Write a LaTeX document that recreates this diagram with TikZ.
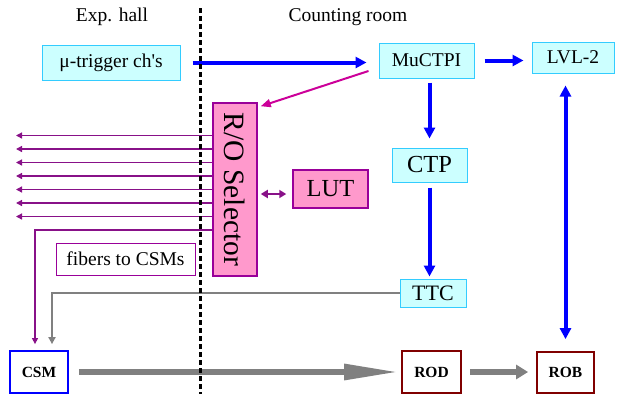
\documentclass[tikz,border=0pt]{standalone}
\usepackage{fontspec}
\setmainfont{Liberation Serif}
\usetikzlibrary{arrows.meta}
\definecolor{trigfill}{RGB}{204,255,255}
\definecolor{trigline}{RGB}{51,204,255}
\definecolor{selfill}{RGB}{255,153,204}
\definecolor{selline}{RGB}{153,0,153}
\definecolor{fibcol}{RGB}{136,17,136}
\definecolor{magline}{RGB}{204,0,153}
\definecolor{rodline}{RGB}{128,0,0}
\begin{document}
\begin{tikzpicture}[x=1pt, y=-1pt, font=\fontsize{19.5}{22}\selectfont,
    trig/.style={draw=trigline, fill=trigfill, line width=1pt, inner sep=0pt},
    sel/.style={draw=selline, fill=selfill, line width=1.5pt, inner sep=0pt},
    rbox/.style={draw=rodline, line width=1.8pt, inner sep=0pt, font=\fontsize{15.5}{17}\selectfont\bfseries},
    trigarr/.style={blue, line width=4pt, >={Triangle[length=11pt,width=11pt]}, ->},
    fiber/.style={fibcol, line width=1.3pt, -{Triangle[length=6pt,width=6pt]}},
    grayarr/.style={gray, line width=6pt, -{Triangle[length=12pt,width=14pt]}}]
    \useasboundingbox (0,0) rectangle (619,394);
    % the two halves
    \node (exphall) at (112,17) {Exp. hall};
    \node (countroom) at (348,17) {Counting room};
    % trigger chain
    \node[trig, minimum width=138pt, minimum height=35pt] (mutrig) at (111,62.5) {μ-trigger ch\textquotesingle s};
    \node[trig, minimum width=95pt, minimum height=35pt] (muctpi) at (426.5,60.5) {MuCTPI};
    \node[trig, minimum width=82pt, minimum height=31pt] (lvl2) at (573,57.5) {LVL-2};
    \node[trig, minimum width=75pt, minimum height=34pt, font=\fontsize{24.5}{26}\selectfont] (ctp) at (429.5,165) {CTP};
    \node[trig, minimum width=66pt, minimum height=28pt, font=\fontsize{22}{24}\selectfont] (ttc) at (433,293) {TTC};
    % read-out selector
    \node[sel, minimum width=44pt, minimum height=173pt, font=\fontsize{29.5}{30}\selectfont] (rosel) at (235,189.5) {\rotatebox{-90}{R/O Selector}};
    \node[sel, minimum width=75pt, minimum height=38pt, font=\fontsize{24.5}{26}\selectfont] (lut) at (330.5,189) {LUT};
    \node[draw=selline, line width=0.8pt, fill=white, minimum width=139pt, minimum height=32pt, inner sep=0pt] (fibnote) at (125.5,259) {fibers to CSMs};
    % read-out boxes
    \node[rbox, draw=blue, minimum width=58pt, minimum height=42pt] (csm) at (39,372) {CSM};
    \node[rbox, minimum width=59pt, minimum height=42pt] (rod) at (431.5,372) {ROD};
    \node[rbox, minimum width=57pt, minimum height=41pt] (rob) at (565.5,372.5) {ROB};

    \draw[trigarr, shorten <=12pt, shorten >=12pt] (mutrig.east) -- (mutrig.east -| muctpi.west);
    \draw[trigarr, shorten <=10pt, shorten >=8pt] (muctpi.east) -- (muctpi.east -| lvl2.west);
    \draw[trigarr, shorten <=4pt, shorten >=9pt] (ctp.north |- muctpi.south) -- (ctp.north);
    \draw[trigarr, shorten <=5pt, shorten >=2pt] (ctp.south) -- (ctp.south |- ttc.north);
    \draw[trigarr, <->, shorten <=12pt, shorten >=12pt] (rob.north |- lvl2.south) -- (rob.north);
    \draw[magline, line width=2pt, -{Triangle[length=10pt,width=8pt]}] ([shift={(-10pt,-10.5pt)}]muctpi.west) -- ([shift={(3pt,-4pt)}]rosel.north east);
    \draw[fibcol, line width=2pt, {Triangle[length=7pt,width=8pt]}-{Triangle[length=7pt,width=8pt]}, shorten <=3pt, shorten >=6pt] (rosel.east |- 0,194) -- (lut.west |- 0,194);
    % fibers
    \foreach \fy in {135.5,149,162.5,176,189.5,203,216.5}
      \draw[fiber] (rosel.west |- 0,\fy) -- (16,\fy);
    \draw[fiber, shorten >=6pt] (rosel.west |- 0,230) -| ([xshift=-4pt]csm.north);
    \draw[gray, line width=2.5pt, -{Triangle[length=7pt,width=7pt]}, shorten >=6pt] (ttc.west) -| ([xshift=13pt]csm.north);
    % data path
    \draw[gray, line width=6pt, -{Triangle[length=55pt,width=15pt]}, shorten <=10pt, shorten >=2pt] (csm.east) -- (rod.west);
    \draw[grayarr, shorten <=8pt, shorten >=8pt] (rod.east) -- (rob.west |- rod.east);
    % hall boundary on top
    \draw[line width=3pt, dash pattern=on 5pt off 3pt] (200,8) -- (200,394);
\end{tikzpicture}
\end{document}
